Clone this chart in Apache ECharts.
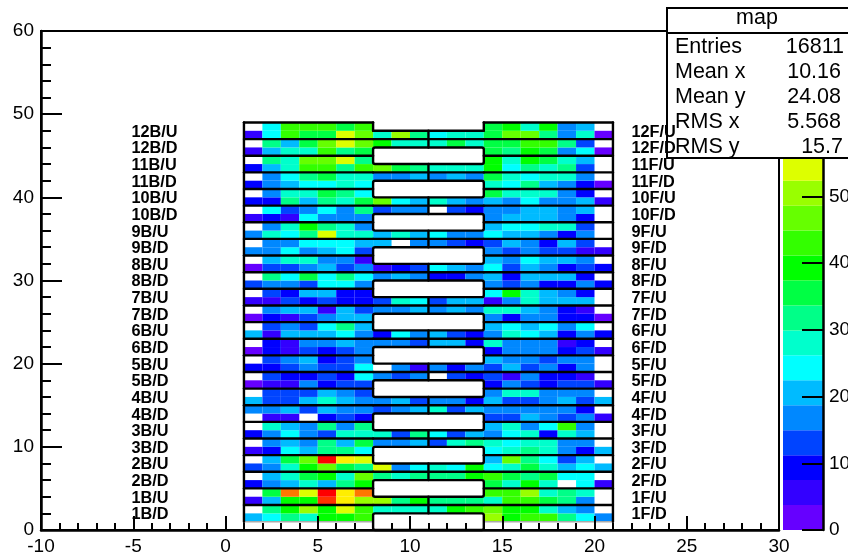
<!DOCTYPE html>
<html><head><meta charset="utf-8">
<style>html,body{margin:0;padding:0;background:#fff}#c{width:848px;height:554px}</style>
<script src="https://cdn.jsdelivr.net/npm/echarts@6/dist/echarts.min.js"></script>
</head><body><div id="c"></div>
<script>
const _ = null;
// z values per row; columns are x = 1..20 (left edge of each bin)
const row48=[_,24,43,43,43,36,43,_,_,_,_,_,_,36,39,28,39,17,21,_];
const row47=[6,24,43,36,36,54,47,28,51,32,24,28,28,36,47,47,32,17,28,2];
const row46=[_,32,21,36,47,54,47,39,28,28,28,36,28,36,36,43,43,32,13,_];
const row45=[6,21,28,28,43,32,36,_,_,_,_,_,_,36,32,39,36,17,24,2];
const row44=[_,32,28,47,47,54,32,_,_,_,_,_,_,39,28,39,36,28,21,_];
const row43=[9,21,28,43,43,32,43,47,36,32,28,28,28,39,24,32,28,32,13,_];
const row42=[_,17,24,32,36,28,28,17,17,21,17,21,17,36,28,24,28,28,17,_];
const row41=[9,17,21,24,24,28,24,_,_,_,_,_,_,28,24,32,21,17,9,2];
const row40=[_,17,28,28,36,32,24,_,_,_,_,_,_,36,28,28,28,17,9,_];
const row39=[9,9,32,21,32,28,36,47,24,21,28,21,17,21,17,24,17,17,21,6];
const row38=[_,24,13,17,24,17,32,13,17,17,_,13,9,17,17,21,21,17,21,_];
const row37=[6,9,6,24,17,17,17,_,_,_,_,_,_,17,21,21,21,17,9,_];
const row36=[_,17,28,39,32,28,17,_,_,_,_,_,_,21,24,24,28,28,13,_];
const row35=[17,28,24,32,54,28,28,21,28,21,24,17,17,24,21,21,17,9,17,_];
const row34=[_,17,17,24,24,24,21,21,_,17,17,13,9,13,21,17,9,21,13,_];
const row33=[17,17,24,17,21,24,13,_,_,_,_,_,_,17,13,17,13,13,6,6];
const row32=[_,21,28,28,17,17,6,_,_,_,_,_,_,21,17,24,21,21,17,_];
const row31=[2,13,13,17,21,13,17,6,9,13,24,21,17,24,13,21,17,9,13,9];
const row30=[_,32,24,36,24,32,24,17,21,17,9,9,17,21,9,21,21,21,9,_];
const row29=[13,17,17,13,24,24,17,_,_,_,_,_,_,17,13,17,9,9,17,9];
const row28=[_,13,9,21,21,9,9,_,_,_,_,_,_,24,39,28,21,17,9,_];
const row27=[6,6,13,9,13,9,9,13,28,24,13,21,21,6,17,28,21,21,21,_];
const row26=[_,17,21,21,6,21,13,17,17,21,17,21,17,28,28,21,17,9,6,_];
const row25=[2,9,6,13,17,21,21,_,_,_,_,_,_,17,9,17,17,9,9,2];
const row24=[_,13,17,13,24,32,21,_,_,_,_,_,_,21,24,21,24,17,24,_];
const row23=[21,6,21,21,21,24,17,9,24,17,21,13,9,17,28,24,21,9,17,9];
const row22=[_,9,6,17,17,21,17,17,17,13,21,21,9,28,17,17,17,6,9,_];
const row21=[2,9,6,13,9,13,17,_,_,_,_,_,_,9,17,17,17,9,13,6];
const row20=[_,13,17,21,9,13,17,_,_,_,_,_,_,21,17,17,13,17,17,_];
const row19=[9,9,13,17,13,13,24,_,17,6,17,9,17,13,21,13,17,9,17,_];
const row18=[_,13,9,9,13,9,24,17,13,17,_,13,9,13,6,17,9,9,6,_];
const row17=[2,6,6,17,9,13,13,_,_,_,_,_,_,9,17,13,9,13,13,6];
const row16=[_,13,13,13,21,17,13,_,_,_,_,_,_,17,28,28,17,17,17,_];
const row15=[21,13,13,21,28,21,17,17,21,13,17,17,9,21,13,13,17,21,13,21];
const row14=[17,17,21,13,21,17,17,13,17,21,28,13,21,17,17,17,17,17,9,_];
const row13=[_,6,6,_,9,13,9,_,_,_,_,_,_,13,13,21,17,13,17,6];
const row12=[_,28,21,17,32,17,32,_,_,_,_,_,_,21,28,17,24,43,17,_];
const row11=[9,17,24,17,13,28,28,28,13,32,24,13,21,17,24,28,9,28,21,_];
const row10=[_,17,21,17,32,21,36,17,17,21,13,28,32,28,24,28,28,17,17,_];
const row9=[6,9,24,21,32,32,24,_,_,_,_,_,_,24,28,32,28,17,9,21];
const row8=[_,21,36,47,73,58,54,_,_,_,_,_,_,21,47,32,24,13,21,_];
const row7=[13,17,28,39,47,36,32,54,17,24,28,24,39,24,28,36,28,21,24,21];
const row6=[_,21,28,36,39,28,47,32,28,32,32,32,39,43,36,32,36,24,24,_];
const row5=[9,17,21,28,21,32,39,_,_,_,_,_,_,36,28,39,28,_,24,6];
const row4=[_,36,66,54,73,58,66,_,_,_,_,_,_,43,43,51,28,32,28,_];
const row3=[6,21,39,39,69,58,51,51,32,39,32,32,32,28,43,43,36,32,17,_];
const row2=[_,32,39,51,39,54,43,28,28,28,28,39,43,47,39,39,28,21,17,_];
const row1=[21,24,32,28,39,39,43,_,_,_,_,_,_,51,39,43,43,32,24,17];
const rowsBottomUp=[row1,row2,row3,row4,row5,row6,row7,row8,row9,row10,row11,row12,row13,row14,row15,row16,row17,row18,row19,row20,row21,row22,row23,row24,row25,row26,row27,row28,row29,row30,row31,row32,row33,row34,row35,row36,row37,row38,row39,row40,row41,row42,row43,row44,row45,row46,row47,row48];

const leftLabels=['12B/U','12B/D','11B/U','11B/D','10B/U','10B/D','9B/U','9B/D','8B/U','8B/D','7B/U','7B/D','6B/U','6B/D','5B/U','5B/D','4B/U','4B/D','3B/U','3B/D','2B/U','2B/D','1B/U','1B/D'];
const rightLabels=['12F/U','12F/D','11F/U','11F/D','10F/U','10F/D','9F/U','9F/D','8F/U','8F/D','7F/U','7F/D','6F/U','6F/D','5F/U','5F/D','4F/U','4F/D','3F/U','3F/D','2F/U','2F/D','1F/U','1F/D'];
const labelY=[48,46,44,42,40,38,36,34,32,30,28,26,24,22,20,18,16,14,12,10,8,6,4,2];
const paletteColors=['#6600ff','#3300ff','#0000ff','#0044ff','#0088ff','#00bbff','#00ffff','#00ffcc','#00ff88','#00ff44','#00ff00','#33ff00','#66ff00','#99ff00','#ddff00','#ffee00','#ffaa00','#ff7700','#ff3300','#ff0000'];
const zMax=74.8;
const statNames=['Entries','Mean x','Mean y','RMS x','RMS y'];
const statValues=['16811','10.16','24.08','5.568','15.7'];
const statRight=[844,841,841,841,843];
const statMiddle=[47,72,97,122,147];
const blockBottoms=[0,4,8,12,16,20,24,28,32,36,40,44];

const zStep=zMax/paletteColors.length;
const colorOf=z=>paletteColors[Math.min(paletteColors.length-1,Math.floor(z/zStep))];
const cells=[];
rowsBottomUp.forEach((r,i)=>r.forEach((z,j)=>{if(z!==null)cells.push([j+1,i+1,z]);}));
// frame segments x1,y1,x2,y2 in data units
const segs=[[1,1,1,49],[21,1,21,49],[1,49,8,49],[8,49,8,48],[8,48,14,48],[14,48,14,49],[14,49,21,49]];
for(let y=1;y<=47;y+=2){ if(y>1){segs.push([1,y,8,y]);segs.push([14,y,21,y]);} }
for(let y=3;y<=47;y+=4){segs.push([8,y,14,y]);segs.push([11,y-1,11,y+1]);}
const thinSegs=[[1,1,8,1],[14,1,21,1],[1,0,1,1],[21,0,21,1]];
const labelData=[];
labelY.forEach((y,i)=>{labelData.push([-5.1,y,leftLabels[i]]);labelData.push([22,y,rightLabels[i]]);});
const bands=paletteColors.map((c,i)=>[i*zStep,(i+1)*zStep,c]);

const FONT='"Liberation Sans",Helvetica,Arial,sans-serif';
const statGraphics=[
 {type:'rect',z:20,shape:{x:667,y:8,width:200,height:150},style:{fill:'#fff',stroke:'#000',lineWidth:2}},
 {type:'line',z:21,shape:{x1:667,y1:33,x2:848,y2:33},style:{stroke:'#000',lineWidth:2}},
 {type:'text',z:21,x:757,y:18,style:{text:'map',fill:'#000',font:'21.5px '+FONT,align:'center',verticalAlign:'middle'}}
];
statNames.forEach((n,i)=>{
 statGraphics.push({type:'text',z:21,x:675,y:statMiddle[i],style:{text:n,fill:'#000',font:'21.5px '+FONT,align:'left',verticalAlign:'middle'}});
 statGraphics.push({type:'text',z:21,x:statRight[i],y:statMiddle[i],style:{text:statValues[i],fill:'#000',font:'21.5px '+FONT,align:'right',verticalAlign:'middle'}});
});

const chart=echarts.init(document.getElementById('c'),null,{renderer:'canvas'});
const axisText={color:'#000',fontFamily:FONT,fontSize:19};
const blackLine={show:true,onZero:false,lineStyle:{color:'#000',width:2.5}};
chart.setOption({
 animation:false,
 backgroundColor:'#fff',
 graphic:{elements:statGraphics},
 grid:[
  {left:41,top:31,width:738,height:499,show:true,borderColor:'#000',borderWidth:2,backgroundColor:'transparent',outerBoundsMode:'none'},
  {left:783,top:31,width:40,height:499,show:false,outerBoundsMode:'none'}
 ],
 xAxis:[
  {gridIndex:0,type:'value',min:-10,max:30,interval:5,z:10,splitLine:{show:false},axisLine:blackLine,
   axisTick:{show:true,inside:true,length:14,lineStyle:{color:'#000',width:2}},
   minorTick:{show:true,splitNumber:5,length:7,lineStyle:{color:'#000',width:2}},
   axisLabel:Object.assign({margin:7},axisText)},
  {gridIndex:1,type:'value',min:0,max:1,show:false}
 ],
 yAxis:[
  {gridIndex:0,type:'value',min:0,max:60,interval:10,z:10,splitLine:{show:false},axisLine:blackLine,
   axisTick:{show:true,inside:true,length:21,lineStyle:{color:'#000',width:2}},
   minorTick:{show:true,splitNumber:5,length:10,lineStyle:{color:'#000',width:2}},
   axisLabel:Object.assign({margin:7,padding:[2,0,0,0]},axisText)},
  {gridIndex:1,type:'value',position:'right',min:0,max:zMax,interval:10,z:10,splitLine:{show:false},axisLine:blackLine,
   axisTick:{show:true,inside:true,length:21,lineStyle:{color:'#000',width:2}},
   axisLabel:Object.assign({margin:6,showMaxLabel:false,padding:[2,0,0,0]},axisText)}
 ],
 series:[
  {type:'custom',xAxisIndex:0,yAxisIndex:0,z:2,silent:true,clip:false,data:cells,encode:{x:0,y:1},
   renderItem:(p,api)=>{
    const x=api.value(0),y=api.value(1),z=api.value(2);
    const a=api.coord([x,y+1]),b=api.coord([x+1,y]);
    return {type:'rect',shape:{x:a[0],y:a[1],width:b[0]-a[0],height:b[1]-a[1]},style:{fill:colorOf(z),stroke:null}};
   }},
  {type:'custom',xAxisIndex:0,yAxisIndex:0,z:3,silent:true,clip:false,data:thinSegs,
   renderItem:(p,api)=>{
    const a=api.coord([api.value(0),api.value(1)]),b=api.coord([api.value(2),api.value(3)]);
    return {type:'line',shape:{x1:a[0],y1:a[1],x2:b[0],y2:b[1]},style:{stroke:'#aaa',lineWidth:1.5}};
   }},
  {type:'custom',xAxisIndex:0,yAxisIndex:0,z:4,silent:true,clip:false,data:segs,
   renderItem:(p,api)=>{
    const a=api.coord([api.value(0),api.value(1)]),b=api.coord([api.value(2),api.value(3)]);
    return {type:'line',shape:{x1:a[0],y1:a[1],x2:b[0],y2:b[1]},style:{stroke:'#000',lineWidth:2.4,lineCap:'round'}};
   }},
  {type:'custom',xAxisIndex:0,yAxisIndex:0,z:4,silent:true,clip:false,data:blockBottoms.map(y=>[8,y,14,y+2]),
   renderItem:(p,api)=>{
    const a=api.coord([api.value(0),api.value(3)]),b=api.coord([api.value(2),api.value(1)]);
    return {type:'rect',shape:{x:a[0],y:a[1],width:b[0]-a[0],height:b[1]-a[1],r:2},style:{fill:null,stroke:'#000',lineWidth:2.4}};
   }},
  {type:'custom',xAxisIndex:0,yAxisIndex:0,z:30,zlevel:0,silent:true,clip:false,data:labelData,
   renderItem:(p,api)=>{
    const c=api.coord([api.value(0),api.value(1)]);
    return {type:'text',x:c[0],y:c[1]+1.5,style:{text:labelData[p.dataIndex][2],fill:'#000',font:'bold 16.3px '+FONT,align:'left',verticalAlign:'middle'}};
   }},
  {type:'custom',xAxisIndex:1,yAxisIndex:1,z:2,silent:true,data:bands,
   renderItem:(p,api)=>{
    const a=api.coord([0,api.value(1)]),b=api.coord([1,api.value(0)]);
    return {type:'rect',shape:{x:a[0],y:a[1],width:b[0]-a[0],height:b[1]-a[1]},style:{fill:bands[p.dataIndex][2],stroke:null}};
   }}
 ]
});
</script></body></html>
